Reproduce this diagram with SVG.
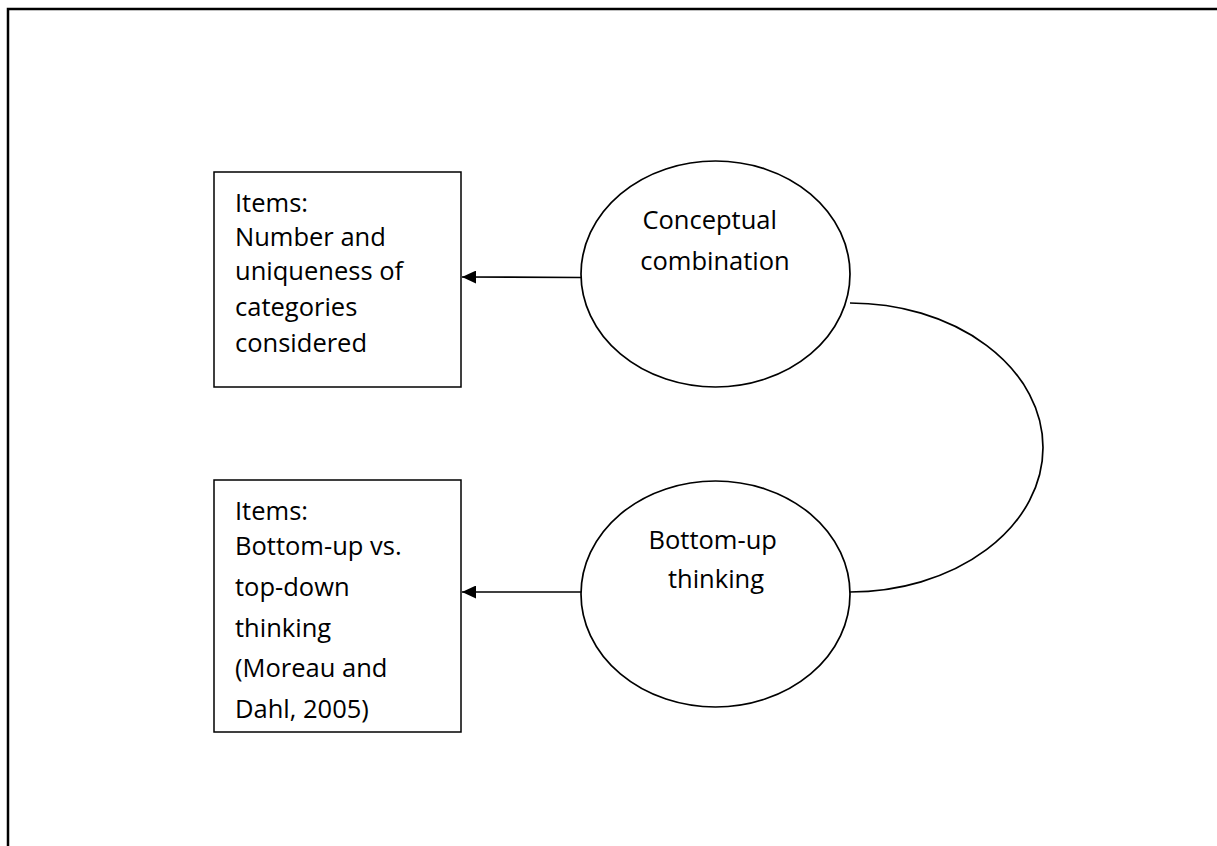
<svg xmlns="http://www.w3.org/2000/svg" width="1217" height="846" viewBox="0 0 1217 846">
  <style>
    .frame { fill: none; stroke: #000; stroke-width: 2.5; }
    .box { fill: #fff; stroke: #000; stroke-width: 1.5; }
    .oval { fill: #fff; stroke: #000; stroke-width: 1.7; }
    .conn { fill: none; stroke: #000; stroke-width: 1.7; }
    .lbl { font-family: "Open Sans", Lato, "Liberation Sans", sans-serif; font-size: 25.5px; fill: #000; }
    .mid { text-anchor: middle; }
  </style>
  <defs>
    <marker id="arrow" viewBox="0 0 14 13" refX="14" refY="6.5" markerWidth="14" markerHeight="13" markerUnits="userSpaceOnUse" orient="auto">
      <path d="M0,0 L14,6.5 L0,13 Z" fill="#000"/>
    </marker>
  </defs>
  <rect width="1217" height="846" fill="#fff"/>

  <!-- page frame: top and left edges -->
  <path class="frame" d="M8,846 L8,9 L1217,9"/>

  <g id="connectors">
    <line class="conn" x1="581" y1="277.5" x2="462" y2="277" marker-end="url(#arrow)"/>
    <line class="conn" x1="581" y1="592" x2="462" y2="592" marker-end="url(#arrow)"/>
    <path class="conn" d="M850,303 A193,144.5 0 0 1 850,592"/>
  </g>

  <g id="items-categories">
    <rect class="box" x="214" y="172" width="247" height="215"/>
    <text class="lbl">
      <tspan x="235" y="212">Items:</tspan>
      <tspan x="235" y="246">Number and</tspan>
      <tspan x="235" y="280">uniqueness of</tspan>
      <tspan x="235" y="316">categories</tspan>
      <tspan x="235" y="352">considered</tspan>
    </text>
  </g>

  <g id="items-bottom-up">
    <rect class="box" x="214" y="480" width="247" height="252"/>
    <text class="lbl">
      <tspan x="235" y="520">Items:</tspan>
      <tspan x="235" y="555">Bottom-up vs.</tspan>
      <tspan x="235" y="596">top-down</tspan>
      <tspan x="235" y="637">thinking</tspan>
      <tspan x="235" y="677">(Moreau and</tspan>
      <tspan x="235" y="718">Dahl, 2005)</tspan>
    </text>
  </g>

  <g id="conceptual-combination">
    <ellipse class="oval" cx="715.5" cy="274" rx="134.5" ry="113"/>
    <text class="lbl mid">
      <tspan x="713" y="229">Conceptual</tspan>
      <tspan x="715" y="270">combination</tspan>
    </text>
  </g>

  <g id="bottom-up-thinking">
    <ellipse class="oval" cx="715.5" cy="594" rx="134.5" ry="113"/>
    <text class="lbl mid">
      <tspan x="716" y="549">Bottom-up</tspan>
      <tspan x="716" y="588">thinking</tspan>
    </text>
  </g>
</svg>
